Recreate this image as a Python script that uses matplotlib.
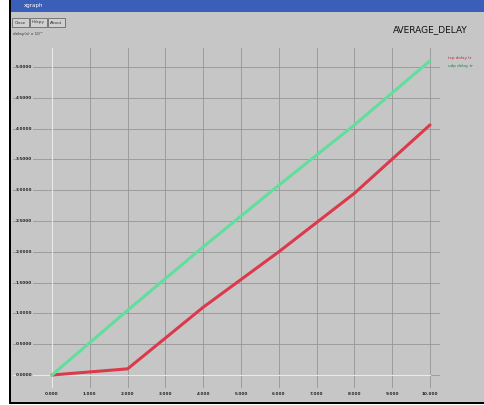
import matplotlib
matplotlib.use("Agg")
import matplotlib.pyplot as plt
from matplotlib.patches import Rectangle

# data
x_vals = [0, 2, 4, 6, 8, 10]
delay_red = [0.0, 0.10, 1.10, 2.00, 2.95, 4.06]
delay_green = [0.0, 1.05, 2.08, 3.08, 4.06, 5.10]
series_names = ["tcp delay tr", "udp delay tr"]
x_ticks = [0, 1, 2, 3, 4, 5, 6, 7, 8, 9, 10]
x_tick_labels = ["0.000", "1.000", "2.000", "3.000", "4.000", "5.000",
                 "6.000", "7.000", "8.000", "9.000", "10.000"]
y_ticks = [0, 0.5, 1, 1.5, 2, 2.5, 3, 3.5, 4, 4.5, 5]
y_tick_labels = ["0.0000", "0.5000", "1.0000", "1.5000", "2.0000", "2.5000",
                 "3.0000", "3.5000", "4.0000", "4.5000", "5.0000"]
title = "AVERAGE_DELAY"

W, H = 485, 405
fig = plt.figure(figsize=(W / 100, H / 100), dpi=100)
fig.patch.set_facecolor("white")

def px(x0, y0, w, h):
    return [x0 / W, 1 - (y0 + h) / H, w / W, h / H]

bg = "#c6c6c6"
# window background
fig.patches.append(Rectangle((10 / W, 1 - 402 / H), 475 / W, 402 / H,
                             transform=fig.transFigure, facecolor=bg, edgecolor="none", zorder=-3))
# title bar
fig.patches.append(Rectangle((10 / W, 1 - 12 / H), 475 / W, 12 / H,
                             transform=fig.transFigure, facecolor="#3a5fb8", edgecolor="none", zorder=-2))
fig.text(24 / W, 1 - 6 / H, "xgraph", color="white", fontsize=4, va="center", ha="left")
# black borders
fig.patches.append(Rectangle((9 / W, 1 - 403 / H), 2 / W, 403 / H,
                             transform=fig.transFigure, facecolor="black", edgecolor="none", zorder=-2))
fig.patches.append(Rectangle((9 / W, 1 - 404 / H), 476 / W, 2 / H,
                             transform=fig.transFigure, facecolor="black", edgecolor="none", zorder=-2))
# buttons
for i, lab in enumerate(["Close", "Hdcpy", "About"]):
    x0 = 12 + i * 18
    fig.patches.append(Rectangle((x0 / W, 1 - 27 / H), 17 / W, 9 / H,
                                 transform=fig.transFigure, facecolor="#d0d0d0",
                                 edgecolor="#555555", linewidth=0.5, zorder=-2))
    fig.text((x0 + 8.5) / W, 1 - 22.5 / H, lab, fontsize=3, ha="center", va="center", color="#333333")
fig.text(13 / W, 1 - 34 / H, "delay(s) x 10^", fontsize=3, ha="left", va="center", color="#333333")
fig.text(393 / W, 1 - 30 / H, title, fontsize=6.5, ha="left", va="center", color="#111111")

# plot axes: data 0..10 -> px 52..430, 0..5 -> px 375..67
ux = (430 - 52) / 10.0
uy = (375 - 67) / 5.0
ax_l, ax_r, ax_t, ax_b = 13, 440, 48, 388
ax = fig.add_axes(px(ax_l, ax_t, ax_r - ax_l, ax_b - ax_t))
ax.set_zorder(1)
ax.set_facecolor("none")
ax.patch.set_alpha(0)
ax.set_xlim(-(52 - ax_l) / ux, 10 + (ax_r - 430) / ux)
ax.set_ylim(-(ax_b - 375) / uy, 5 + (67 - ax_t) / uy)
for s in ax.spines.values():
    s.set_visible(False)
ax.set_xticks(x_ticks)
ax.set_yticks(y_ticks)
ax.set_xticklabels(x_tick_labels, fontsize=3, color="#222222", fontweight="bold")
ax.set_yticklabels([])
ax.tick_params(length=0, pad=3)
ax.grid(True, color="#959595", linewidth=0.6)
ax.axhline(0, color="#e8e8e8", linewidth=0.8, xmax=(430 - ax_l) / (ax_r - ax_l))
ax.axvline(0, color="#e8e8e8", linewidth=0.8)
for yv, lab in zip(y_ticks, y_tick_labels):
    ax.text(-(52 - 16) / ux, yv, lab, fontsize=3, ha="left", va="center", color="#222222",
            fontweight="bold", bbox=dict(facecolor=bg, edgecolor="none", pad=0.3))

ax.plot(x_vals, delay_red, color="#dc3a4c", linewidth=2.2, solid_capstyle="round")
ax.plot(x_vals, delay_green, color="#62de9c", linewidth=2.2, solid_capstyle="round")

fig.text(448 / W, 1 - 58 / H, series_names[0], fontsize=3, color="#c03040", ha="left", va="center")
fig.text(448 / W, 1 - 66 / H, series_names[1], fontsize=3, color="#208050", ha="left", va="center")

fig.savefig("out.png", dpi=100, facecolor=fig.get_facecolor())
